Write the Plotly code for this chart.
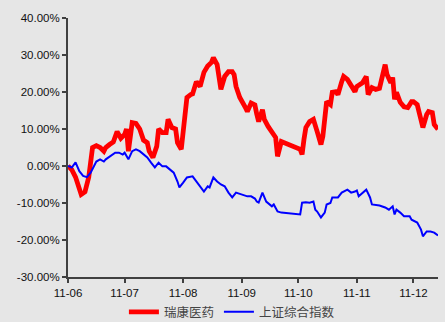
import plotly.graph_objects as go

# 瑞康医药 cumulative return (%), 2011
ruikang_dates = [
    "2011-06-09", "2011-06-11", "2011-06-13", "2011-06-15", "2011-06-16", "2011-06-18",
    "2011-06-20", "2011-06-21", "2011-06-22", "2011-06-24", "2011-06-26", "2011-06-28",
    "2011-06-29", "2011-07-01", "2011-07-03", "2011-07-05", "2011-07-07", "2011-07-09",
    "2011-07-10", "2011-07-11", "2011-07-13", "2011-07-15", "2011-07-17", "2011-07-19",
    "2011-07-21", "2011-07-22", "2011-07-24", "2011-07-26", "2011-07-27", "2011-07-29",
    "2011-07-31", "2011-08-01", "2011-08-03", "2011-08-05", "2011-08-06", "2011-08-08",
    "2011-08-10", "2011-08-11", "2011-08-13", "2011-08-14", "2011-08-16", "2011-08-18",
    "2011-08-20", "2011-08-22", "2011-08-24", "2011-08-25", "2011-08-27", "2011-08-29",
    "2011-08-31", "2011-09-02", "2011-09-04", "2011-09-05", "2011-09-06", "2011-09-08",
    "2011-09-11", "2011-09-12", "2011-09-14", "2011-09-16", "2011-09-17", "2011-09-18",
    "2011-09-20", "2011-09-21", "2011-09-23", "2011-09-25", "2011-09-27", "2011-09-28",
    "2011-09-30", "2011-10-10", "2011-10-11", "2011-10-12", "2011-10-13", "2011-10-15",
    "2011-10-17", "2011-10-19", "2011-10-20", "2011-10-21", "2011-10-22", "2011-10-23",
    "2011-10-24", "2011-10-26", "2011-10-27", "2011-10-29", "2011-10-30", "2011-11-01",
    "2011-11-02", "2011-11-04", "2011-11-06", "2011-11-08", "2011-11-09", "2011-11-12",
    "2011-11-14", "2011-11-15", "2011-11-17", "2011-11-19", "2011-11-21", "2011-11-23",
    "2011-11-24", "2011-11-25", "2011-11-27", "2011-11-28", "2011-11-29", "2011-11-30",
    "2011-12-02", "2011-12-04", "2011-12-06", "2011-12-08", "2011-12-09", "2011-12-11",
    "2011-12-13", "2011-12-14", "2011-12-16", "2011-12-17", "2011-12-19", "2011-12-20",
    "2011-12-22",
]
ruikang_values = [
    0.0, -1.0, -3.0, -6.0, -7.7, -7.0,
    -3.0, 1.0, 5.0, 5.5, 5.0, 4.0,
    5.0, 5.8, 6.5, 9.3, 7.5, 8.5,
    10.0, 4.0, 11.7, 11.5, 10.0, 7.0,
    6.3, 4.0, 2.3, 5.3, 10.0, 9.0,
    9.0, 12.6, 10.4, 10.0, 6.3, 4.5,
    14.5, 18.5, 19.3, 19.5, 22.8, 21.5,
    25.3, 27.0, 28.0, 29.3, 27.4, 20.7,
    24.2, 25.5, 25.5, 24.7, 21.5, 18.5,
    15.8, 14.7, 17.0, 16.5, 14.0, 12.0,
    15.2, 12.6, 10.7, 9.0, 7.7, 2.6,
    6.6, 4.5, 3.1, 7.2, 10.4, 12.0,
    12.6, 9.3, 7.2, 5.8, 8.0, 13.4,
    17.4, 16.6, 19.9, 20.1, 19.3, 22.8,
    24.2, 23.4, 21.5, 20.1, 21.5, 22.5,
    24.2, 19.3, 21.2, 20.7, 21.0, 25.3,
    27.4, 24.7, 22.5, 23.9, 18.0, 19.9,
    17.2, 16.0, 15.8, 17.4, 17.4, 16.6,
    13.1, 10.4, 13.9, 14.7, 14.4, 11.2,
    9.9,
]

# 上证综合指数 cumulative return (%), 2011
index_dates = [
    "2011-06-09", "2011-06-11", "2011-06-13", "2011-06-15", "2011-06-17", "2011-06-19",
    "2011-06-21", "2011-06-23", "2011-06-24", "2011-06-26", "2011-06-28", "2011-06-29",
    "2011-07-01", "2011-07-04", "2011-07-06", "2011-07-08", "2011-07-09", "2011-07-11",
    "2011-07-13", "2011-07-15", "2011-07-17", "2011-07-20", "2011-07-21", "2011-07-23",
    "2011-07-25", "2011-07-27", "2011-07-29", "2011-07-31", "2011-08-02", "2011-08-04",
    "2011-08-06", "2011-08-07", "2011-08-09", "2011-08-11", "2011-08-14", "2011-08-16",
    "2011-08-18", "2011-08-20", "2011-08-22", "2011-08-23", "2011-08-25", "2011-08-27",
    "2011-08-29", "2011-08-31", "2011-09-02", "2011-09-04", "2011-09-06", "2011-09-09",
    "2011-09-12", "2011-09-14", "2011-09-16", "2011-09-17", "2011-09-18", "2011-09-20",
    "2011-09-22", "2011-09-25", "2011-09-26", "2011-09-28", "2011-09-30", "2011-10-10",
    "2011-10-11", "2011-10-13", "2011-10-15", "2011-10-17", "2011-10-18", "2011-10-19",
    "2011-10-21", "2011-10-23", "2011-10-24", "2011-10-26", "2011-10-27", "2011-10-30",
    "2011-11-01", "2011-11-04", "2011-11-06", "2011-11-08", "2011-11-09", "2011-11-10",
    "2011-11-12", "2011-11-14", "2011-11-16", "2011-11-17", "2011-11-21", "2011-11-24",
    "2011-11-26", "2011-11-28", "2011-11-29", "2011-11-30", "2011-12-02", "2011-12-04",
    "2011-12-07", "2011-12-08", "2011-12-11", "2011-12-13", "2011-12-14", "2011-12-16",
    "2011-12-18", "2011-12-20", "2011-12-22",
]
index_values = [
    0.0, -0.4, 1.0, -1.4, -2.7, -3.0,
    -1.8, 0.4, 1.2, 1.8, 1.2, 1.8,
    2.6, 3.6, 3.6, 3.1, 3.6, 1.8,
    4.0, 4.5, 4.0, 2.6, 2.3, 0.9,
    -0.4, 0.9, -0.1, -0.1, -1.0, -1.8,
    -4.2, -5.8, -4.5, -3.1, -2.8, -4.2,
    -5.8, -6.9, -5.5, -5.8, -3.1, -4.2,
    -5.0, -5.5, -7.2, -8.5, -7.2, -7.7,
    -8.2, -8.2, -8.8, -9.6, -9.9, -7.2,
    -9.6, -10.9, -10.4, -12.3, -12.6, -13.1,
    -9.9, -9.8, -9.9, -9.6, -11.8, -12.3,
    -13.9, -12.6, -10.4, -10.0, -8.5, -8.5,
    -7.2, -6.4, -7.2, -6.9, -6.6, -8.2,
    -7.2, -6.4, -8.5, -10.4, -10.7, -11.2,
    -11.8, -10.9, -13.1, -11.8, -12.6, -13.6,
    -13.6, -14.5, -15.3, -17.2, -19.0, -17.7,
    -17.7, -18.0, -18.8,
]

y_tick_values = [-30, -20, -10, 0, 10, 20, 30, 40]
y_tick_labels = ["-30.00%", "-20.00%", "-10.00%", "0.00%",
                 "10.00%", "20.00%", "30.00%", "40.00%"]

BG = "#e6e6e6"
AXIS = "#404040"
FONT = "Liberation Sans, Arial, Noto Sans CJK SC, sans-serif"

fig = go.Figure()
fig.add_trace(go.Scatter(
    x=ruikang_dates, y=ruikang_values, name="瑞康医药", mode="lines",
    line=dict(color="#ff0000", width=4.8),
))
fig.add_trace(go.Scatter(
    x=index_dates, y=index_values, name="上证综合指数", mode="lines",
    line=dict(color="#0000ff", width=2),
))

fig.update_layout(
    width=445, height=322,
    margin=dict(l=68, r=7, t=18, b=45, autoexpand=False),
    paper_bgcolor=BG, plot_bgcolor=BG,
    font=dict(family=FONT, size=11.5, color="#111111"),
    showlegend=True,
    legend=dict(
        orientation="h", x=0.443, xanchor="center",
        y=-0.136, yanchor="middle",
        font=dict(size=12.5, color="#444444"), bgcolor="rgba(0,0,0,0)",
        itemwidth=30, tracegroupgap=0,
    ),
)
fig.update_xaxes(
    type="date",
    range=["2011-06-09", "2011-12-22"],
    tick0="2011-06-09", dtick="M1", tickformat="%y-%m",
    showgrid=False, zeroline=False,
    showline=True, linecolor=AXIS, linewidth=2,
    ticks="outside", ticklen=4, tickwidth=1.5, tickcolor=AXIS,
)
fig.update_yaxes(
    range=[-30, 40],
    tickvals=y_tick_values, ticktext=y_tick_labels,
    showgrid=False, zeroline=False,
    showline=True, linecolor=AXIS, linewidth=2,
    ticks="outside", ticklen=4, tickwidth=1.5, tickcolor=AXIS,
)

fig.write_html("out.html")
